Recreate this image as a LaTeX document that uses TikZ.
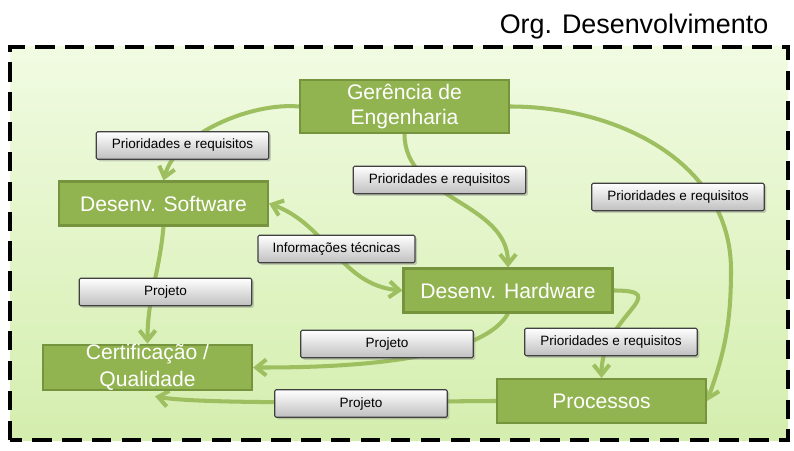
\documentclass[tikz,border=0pt]{standalone}
\usepackage{fontspec}
\setmainfont{Liberation Sans}
\usepackage{xcolor}
\usepackage{tikz}
\usetikzlibrary{positioning,calc,arrows.meta,shadows}

\definecolor{deptfill}{RGB}{145,180,80}
\definecolor{deptedge}{RGB}{118,148,62}
\definecolor{linkgreen}{RGB}{157,191,95}
\definecolor{bgtop}{RGB}{241,251,226}
\definecolor{bgbottom}{RGB}{212,238,174}

\pgfdeclarelayer{back}
\pgfdeclarelayer{links}
\pgfsetlayers{back,links,main}

\begin{document}
\begin{tikzpicture}[
  >={Straight Barb[length=2mm,width=3.2mm]},
  dept/.style={draw=deptedge, line width=1.2pt, fill=deptfill, text=white,
    minimum width=4.18cm, minimum height=0.88cm, inner sep=0pt, align=center,
    font=\fontsize{12}{14}\selectfont},
  msg/.style={draw=black!75, line width=0.6pt, rounded corners=0.8pt,
    top color=white, bottom color=black!25, minimum width=3.45cm,
    minimum height=0.55cm, inner sep=0pt, font=\fontsize{7.7}{9}\selectfont,
    drop shadow={shadow xshift=0.04cm, shadow yshift=-0.04cm, opacity=0.35}},
  link/.style={draw=linkgreen, line width=2.3pt, ->},
]
  \useasboundingbox (0,0) rectangle (15.88,9);

  % Org frame
  \begin{pgfonlayer}{back}
    \shade[top color=bgtop, bottom color=bgbottom] (0.2,0.2) rectangle (15.76,8.06);
    \draw[line width=2.1pt, dash pattern=on 11pt off 6pt] (0.2,0.2) rectangle (15.76,8.06);
  \end{pgfonlayer}
  \node[font=\fontsize{15.3}{18}\selectfont] (title) at (12.68,8.46) {Org. Desenvolvimento};

  % Departments
  \node[dept, minimum height=1.06cm] (ger) at (8.09,6.87) {Gerência de\\Engenharia};
  \node[dept] (soft) at (3.27,4.93) {Desenv. Software};
  \node[dept, font=\fontsize{12}{15}\selectfont] (cert) at (2.95,1.65) {Certificação /\\Qualidade};
  \node[dept] (hard) at (10.16,3.19) {Desenv. Hardware};
  \node[dept] (proc) at (12.03,0.98) {Processos};

  % Labels
  \node[msg] (m1) at (3.65,6.09) {Prioridades e requisitos};
  \node[msg] (m2) at (8.79,5.40) {Prioridades e requisitos};
  \node[msg] (m3) at (13.56,5.06) {Prioridades e requisitos};
  \node[msg, minimum width=3.14cm] (m4) at (6.73,4.02) {Informações técnicas};
  \node[msg] (m5) at (3.31,3.16) {Projeto};
  \node[msg] (m6) at (7.74,2.12) {Projeto};
  \node[msg] (m7) at (7.22,0.93) {Projeto};
  \node[msg] (m8) at (12.22,2.16) {Prioridades e requisitos};

  \coordinate (turn) at (14.62,3.6);

  % Flows
  \begin{pgfonlayer}{links}
    \draw[link] (ger.west) to[out=175,in=75,looseness=0.8] (soft.north);
    \draw[link] (ger.south) to[out=-90,in=90] (hard.north);
    \draw[link] (ger.east) to[out=0,in=90] (turn) to[out=-90,in=70] (proc.east);
    \draw[link, <->] (soft.east) to[out=-20,in=175] (hard.west);
    \draw[link] (soft.south) to[out=-95,in=90] (cert.north);
    \draw[link] (hard.south) to[out=-120,in=0,looseness=0.6] (cert.east);
    \draw[link] (proc.west) to[out=180,in=-10,looseness=0.4] ([xshift=0.15cm,yshift=-0.1cm]cert.south);
    \draw[link] (hard.east) to[out=0,in=90,looseness=1.8] (proc.north);
  \end{pgfonlayer}
\end{tikzpicture}
\end{document}
